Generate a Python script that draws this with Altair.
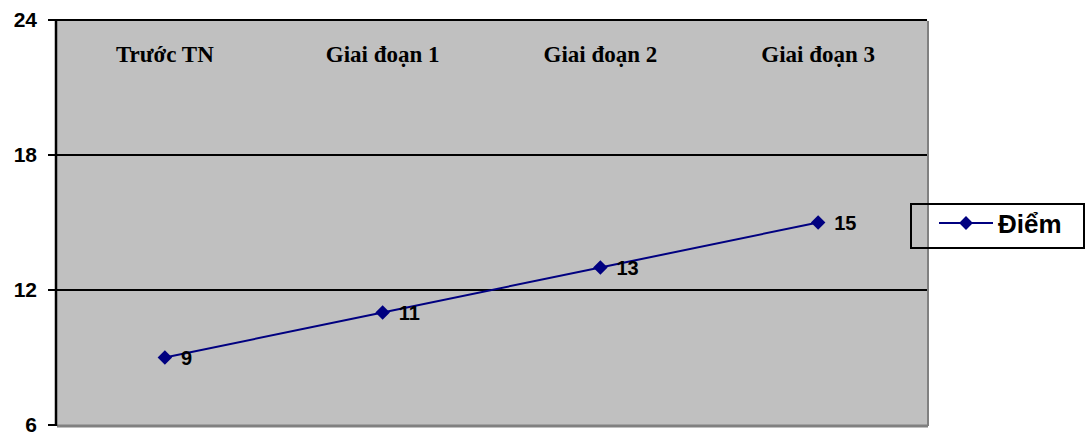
import altair as alt
import pandas as pd

# Stages of the experiment and the average score at each one
stages = ["Trước TN", "Giai đoạn 1", "Giai đoạn 2", "Giai đoạn 3"]
scores = [9, 11, 13, 15]

# Value axis ticks and the horizontal lines drawn across the plot
y_ticks = [6, 12, 18, 24]
grid_values = [12, 18, 24]

series_name = "Điểm"

NAVY = "#000080"
PLOT_W, PLOT_H = 871, 405

df = pd.DataFrame({"stage": stages, "score": scores})
df_ticks = pd.DataFrame({"value": y_ticks})
df_grid = pd.DataFrame({"value": grid_values})
df_legend = pd.DataFrame({"label": [series_name]})

x_enc = alt.X("stage:N", sort=stages,
              scale=alt.Scale(type="point", padding=0.5), axis=None)
y_scale = alt.Scale(domain=[6, 24], nice=False, zero=False)

grid = alt.Chart(df_grid).mark_rule(color="black", strokeWidth=2).encode(
    y=alt.Y("value:Q", scale=y_scale, axis=None),
    x=alt.value(0), x2=alt.value(PLOT_W),
)

# Value axis: left edge, tick marks and bold labels
axis_line = alt.Chart(df_legend).mark_rule(color="black", strokeWidth=2.5).encode(
    x=alt.value(0), y=alt.value(0), y2=alt.value(PLOT_H + 1)
)
axis_ticks = alt.Chart(df_ticks).mark_rule(color="black", strokeWidth=2).encode(
    y=alt.Y("value:Q", scale=y_scale), x=alt.value(-8), x2=alt.value(0)
)
axis_labels = alt.Chart(df_ticks).mark_text(
    align="right", baseline="middle", dy=1,
    font="Liberation Sans", fontWeight="bold", fontSize=21, color="black"
).encode(y=alt.Y("value:Q", scale=y_scale), x=alt.value(-19), text="value:Q")

# Grey shadow along the bottom and right edges of the plot frame
bottom_shadow = alt.Chart(df_legend).mark_rule(color="#808080", strokeWidth=3).encode(
    y=alt.value(PLOT_H + 1), x=alt.value(1), x2=alt.value(PLOT_W + 1)
)
right_shadow = alt.Chart(df_legend).mark_rule(color="#808080", strokeWidth=2).encode(
    x=alt.value(PLOT_W + 1), y=alt.value(1), y2=alt.value(PLOT_H + 1)
)

line = alt.Chart(df).mark_line(color=NAVY, strokeWidth=2).encode(
    x=x_enc, y=alt.Y("score:Q", scale=y_scale)
)

points = alt.Chart(df).mark_point(shape="diamond", filled=True, size=210,
                                  color=NAVY, opacity=1).encode(
    x=x_enc, y=alt.Y("score:Q", scale=y_scale)
)

value_labels = alt.Chart(df).mark_text(
    align="left", baseline="middle", dx=16, dy=1,
    font="Liberation Sans", fontWeight="bold", fontSize=20, color="black"
).encode(x=x_enc, y=alt.Y("score:Q", scale=y_scale), text="score:Q")

stage_labels = alt.Chart(df).mark_text(
    align="center", baseline="alphabetic",
    font="Liberation Serif", fontWeight="bold", fontSize=23, color="black"
).encode(x=x_enc, y=alt.value(42), text="stage:N")

# Legend box on the right
legend_box = alt.Chart(df_legend).mark_rect(
    fill="transparent", stroke="black", strokeWidth=2
).encode(x=alt.value(855), x2=alt.value(1028), y=alt.value(184), y2=alt.value(228))
legend_line = alt.Chart(df_legend).mark_rule(color=NAVY, strokeWidth=2).encode(
    x=alt.value(883), x2=alt.value(937), y=alt.value(203)
)
legend_marker = alt.Chart(df_legend).mark_point(
    shape="diamond", filled=True, size=190, color=NAVY, opacity=1
).encode(x=alt.value(910), y=alt.value(203))
legend_text = alt.Chart(df_legend).mark_text(
    align="left", baseline="alphabetic",
    font="Liberation Sans", fontWeight="bold", fontSize=26, color="black"
).encode(x=alt.value(942), y=alt.value(213), text="label:N")

chart = alt.layer(
    grid, bottom_shadow, right_shadow, axis_line, axis_ticks, axis_labels,
    line, points, value_labels, stage_labels,
    legend_box, legend_line, legend_marker, legend_text
).properties(
    width=PLOT_W, height=PLOT_H,
    autosize=alt.AutoSizeParams(type="none"),
    padding={"left": 56, "top": 20, "right": 160, "bottom": 12},
    background="white",
).configure_view(fill="#C0C0C0", stroke="transparent")

chart.save("out.html", embed_options={"renderer": "svg", "actions": False})
